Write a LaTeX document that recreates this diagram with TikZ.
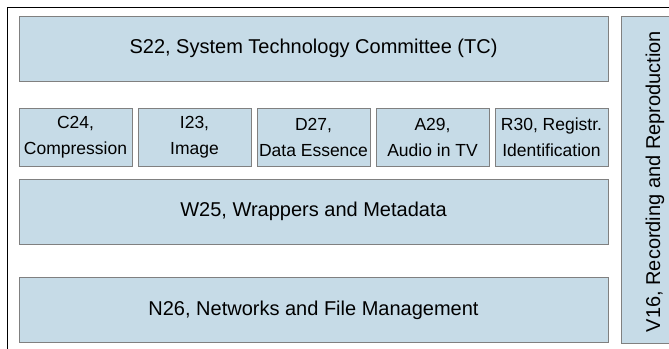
\documentclass[tikz,border=0pt]{standalone}
\usepackage{fontspec}
\setmainfont{Liberation Sans}
\usepackage{xcolor}
\usetikzlibrary{positioning}
\definecolor{boxfill}{RGB}{198,219,231}
\definecolor{boxline}{RGB}{128,128,128}

\begin{document}
\begin{tikzpicture}[
    x=1pt, y=1pt,
    node distance=6pt,
    group/.style={draw=boxline, fill=boxfill, line width=0.9pt, inner sep=0pt, outer sep=0pt, align=center, font=\fontsize{20}{26}\selectfont},
    wide/.style={group, minimum width=589pt, minimum height=65pt},
    small/.style={group, minimum width=113pt, minimum height=58pt, font=\fontsize{17.5}{26}\selectfont}
]
    \useasboundingbox (0,0) rectangle (669,348);
    \clip (0,0) rectangle (669,348);

    % Frame
    \draw[line width=0.9pt] (7,-20) -- (7,341) -- (700,341);

    % Committees
    \node[wide] (s22) at (313.5,299.5) {S22, System Technology Committee (TC)};

    \node[small, anchor=north west] (c24) at (19,240) {C24,\\Compression};
    \node[small, right=of c24] (i23) {I23,\\Image};
    \node[small, right=of i23] (d27) {D27,\\Data Essence};
    \node[small, right=of d27] (a29) {A29,\\Audio in TV};
    \node[small, right=of a29] (r30) {R30, Registr.\\Identification};

    \node[wide] (w25) at (313.5,136.5) {W25, Wrappers and Metadata};
    \node[wide] (n26) at (313.5,38) {N26, Networks and File Management};

    % Side column
    \node[group, minimum width=70pt, minimum height=327pt, anchor=north west] (v16) at (621,332) {};
    \node[rotate=90, inner sep=0pt, font=\fontsize{20}{26}\selectfont] (v16text) at (655,166.5) {V16, Recording and Reproduction};
\end{tikzpicture}
\end{document}
